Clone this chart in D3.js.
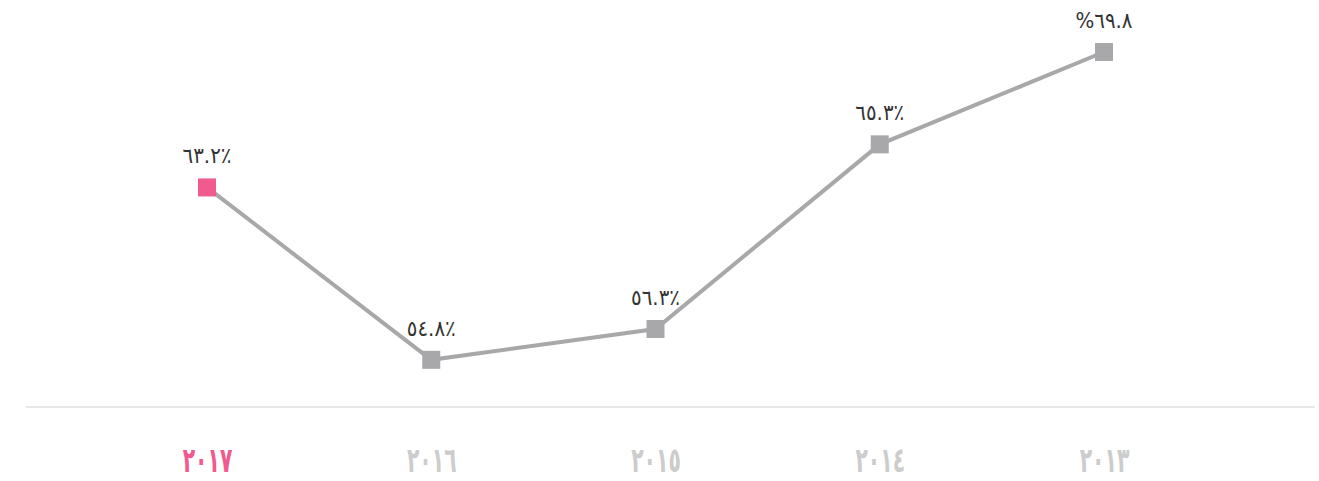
<!DOCTYPE html>
<html>
<head>
<meta charset="utf-8">
<script src="https://cdn.jsdelivr.net/npm/d3@7"></script>
<style>
  html, body { margin: 0; padding: 0; background: #fff; }
  svg { display: block; }
</style>
</head>
<body>
<svg id="chart" width="1319" height="481"></svg>
<script>
// Years (left to right) and their percentages
const years = ["٢٠١٧", "٢٠١٦", "٢٠١٥", "٢٠١٤", "٢٠١٣"];
const values = [63.2, 54.8, 56.3, 65.3, 69.8];
const valueLabels = ["٦٣.٢٪", "٥٤.٨٪", "٥٦.٣٪", "٦٥.٣٪", "%٦٩.٨"];
const highlightYear = "٢٠١٧";

const svg = d3.select("#chart");
const pink = "#f05a8e";
const grey = "#a8a8aa";
const fontStack = "'DejaVu Sans Condensed', 'DejaVu Sans', sans-serif";

const x = d3.scalePoint().domain(years).range([207, 1104]);
const y = d3.scaleLinear().domain([52.5, 69.8]).range([407, 52]);

const data = years.map((yr, i) => ({ year: yr, value: values[i], label: valueLabels[i] }));

// Baseline
svg.append("line")
  .attr("x1", 26).attr("x2", 1315)
  .attr("y1", y(52.5)).attr("y2", y(52.5))
  .attr("stroke", "#cfcfcf").attr("stroke-width", 1);

// Year axis (no domain line, no ticks); glyphs drawn tall and narrow
const sx = 0.78, sy = 1.2;
const axis = svg.append("g")
  .attr("transform", `translate(0,${y(52.5)})`)
  .call(d3.axisBottom(x).tickSize(0).tickPadding(0));
axis.select(".domain").remove();
axis.selectAll("text")
  .attr("transform", `scale(${sx},${sy})`)
  .attr("y", 65 / sy)
  .attr("dy", 0)
  .attr("font-family", fontStack)
  .attr("font-size", 29)
  .attr("font-weight", "bold")
  .attr("direction", "ltr")
  .attr("fill", d => d === highlightYear ? pink : "#cccccc");

// Line
const line = d3.line().x(d => x(d.year)).y(d => y(d.value));
svg.append("path")
  .datum(data)
  .attr("d", line)
  .attr("fill", "none")
  .attr("stroke", grey)
  .attr("stroke-width", 4);

// Square markers
const s = 18;
svg.selectAll("rect.pt")
  .data(data)
  .join("rect")
  .attr("class", "pt")
  .attr("x", d => x(d.year) - s / 2)
  .attr("y", d => y(d.value) - s / 2)
  .attr("width", s).attr("height", s)
  .attr("fill", d => d.year === highlightYear ? pink : grey);

// Value labels
svg.selectAll("text.val")
  .data(data)
  .join("text")
  .attr("class", "val")
  .attr("x", d => x(d.year))
  .attr("y", d => y(d.value) - 24)
  .attr("text-anchor", "middle")
  .attr("direction", "ltr")
  .attr("font-family", fontStack)
  .attr("font-size", 22)
  .attr("fill", "#333")
  .text(d => d.label);
</script>
</body>
</html>
